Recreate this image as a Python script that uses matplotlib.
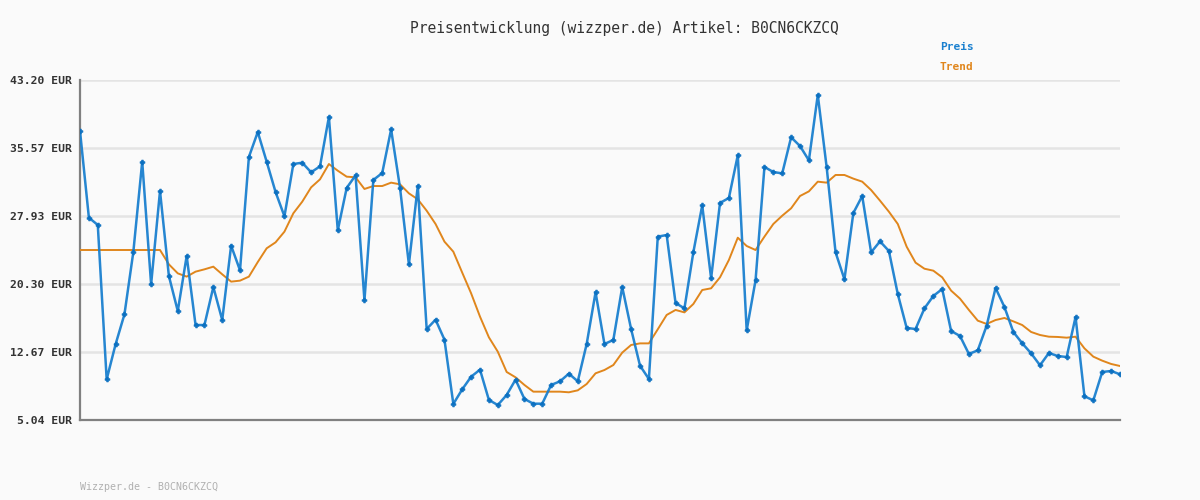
import numpy as np
import matplotlib.pyplot as plt

# values (EUR)
preis = [37.48, 27.75, 26.93, 9.60, 13.53, 16.90, 23.90, 34.03, 20.27, 30.74,
         21.20, 17.27, 23.45, 15.70, 15.70, 19.97, 16.26, 24.61, 21.84, 34.56,
         37.36, 34.03, 30.63, 27.90, 33.77, 33.92, 32.84, 33.51, 39.05, 26.33,
         31.08, 32.50, 18.47, 31.98, 32.76, 37.66, 31.12, 22.51, 31.30, 15.25,
         16.30, 14.06, 6.84, 8.48, 9.90, 10.69, 7.29, 6.72, 7.85, 9.57,
         7.40, 6.87, 6.87, 8.97, 9.38, 10.24, 9.38, 13.57, 19.37, 13.57,
         14.02, 19.97, 15.25, 11.14, 9.64, 25.62, 25.80, 18.17, 17.57, 23.86,
         29.13, 20.94, 29.40, 29.96, 34.75, 15.10, 20.72, 33.44, 32.87, 32.72,
         36.77, 35.79, 34.18, 41.52, 33.40, 23.86, 20.83, 28.27, 30.18, 23.86,
         25.09, 24.01, 19.18, 15.37, 15.25, 17.57, 18.96, 19.74, 15.03, 14.47,
         12.45, 12.86, 15.63, 19.86, 17.72, 14.92, 13.65, 12.52, 11.18, 12.56,
         12.22, 12.11, 16.60, 7.70, 7.25, 10.43, 10.54, 10.17]

trend = [24.12, 24.12, 24.12, 24.12, 24.12, 24.12, 24.12, 24.12, 24.12, 24.12,
         22.51, 21.50, 21.13, 21.69, 21.95, 22.25, 21.39, 20.57, 20.68, 21.13,
         22.77, 24.31, 24.98, 26.18, 28.24, 29.54, 31.15, 32.05, 33.77, 33.02,
         32.35, 32.28, 30.97, 31.30, 31.30, 31.68, 31.49, 30.48, 29.81, 28.53,
         27.04, 25.06, 23.93, 21.58, 19.26, 16.64, 14.32, 12.71, 10.43, 9.83,
         8.97, 8.22, 8.22, 8.22, 8.22, 8.15, 8.37, 9.08, 10.28, 10.65,
         11.21, 12.60, 13.46, 13.64, 13.64, 15.22, 16.83, 17.39, 17.12, 18.06,
         19.63, 19.82, 21.05, 23.00, 25.50, 24.57, 24.12, 25.62, 27.04, 27.97,
         28.80, 30.18, 30.70, 31.79, 31.68, 32.54, 32.54, 32.13, 31.79, 30.85,
         29.66, 28.42, 27.04, 24.49, 22.70, 22.02, 21.80, 21.05, 19.56, 18.66,
         17.39, 16.19, 15.82, 16.26, 16.49, 16.11, 15.70, 14.92, 14.58, 14.39,
         14.36, 14.28, 14.39, 13.08, 12.15, 11.70, 11.33, 11.10]

y_ticks = [5.04, 12.67, 20.30, 27.93, 35.57, 43.20]
artikel = "B0CN6CKZCQ"

bg = "#fafafa"
blue = "#1a80cf"
orange = "#e0861c"
mono = "DejaVu Sans Mono"

fig = plt.figure(figsize=(12, 5), dpi=100, facecolor=bg)
ax = fig.add_axes([80 / 1200, 80 / 500, 1040 / 1200, 340 / 500], facecolor=bg)

x = np.arange(len(preis))
ax.plot(x, trend, color=orange, lw=1.4, zorder=3)
ax.plot(x, preis, color=blue, lw=1.8, marker="P", ms=3.5, mfc="#0a6fc0", mec="#0a6fc0",
        mew=0.5, zorder=4, alpha=0.95)

ax.set_xlim(0, len(preis) - 1)
ax.set_ylim(y_ticks[0], y_ticks[-1])
ax.set_yticks(y_ticks)
ax.set_yticklabels([f"{v:.2f} EUR" for v in y_ticks], fontfamily=mono,
                   fontweight="bold", fontsize=8.2, color="#333333")
ax.set_xticks([])
ax.tick_params(axis="y", length=0, pad=6)
ax.grid(axis="y", color="#e4e4e4", lw=1.8, zorder=0)

for s in ["top", "right"]:
    ax.spines[s].set_visible(False)
for s in ["left", "bottom"]:
    ax.spines[s].set_color("#808080")
    ax.spines[s].set_linewidth(1.6)
ax.spines["bottom"].set_zorder(5)

fig.text(624 / 1200, 1 - 28 / 500, f"Preisentwicklung (wizzper.de) Artikel: {artikel}",
         ha="center", va="center", fontfamily=mono, fontsize=10.5, color="#333333")
fig.text(940 / 1200, 1 - 47 / 500, "Preis", ha="left", va="center",
         fontfamily=mono, fontweight="bold", fontsize=8, color=blue)
fig.text(940 / 1200, 1 - 67 / 500, "Trend", ha="left", va="center",
         fontfamily=mono, fontweight="bold", fontsize=8, color=orange)
fig.text(80 / 1200, 1 - 487 / 500, f"Wizzper.de - {artikel}", ha="left", va="center",
         fontfamily=mono, fontsize=7.2, color="#b0b0b0")

fig.savefig("out.png", dpi=100, facecolor=bg)
